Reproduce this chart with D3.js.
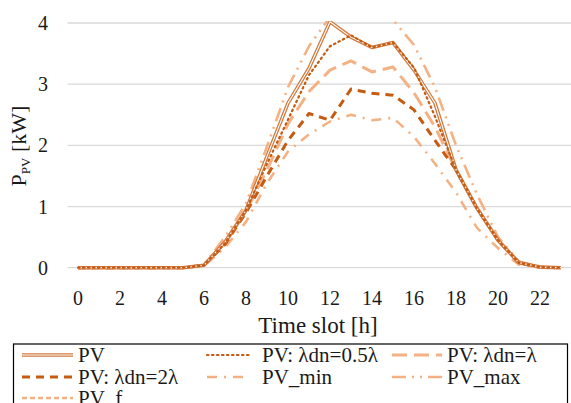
<!DOCTYPE html>
<html>
<head>
<meta charset="utf-8">
<script src="https://cdn.jsdelivr.net/npm/d3@7"></script>
<style>
  body { margin: 0; background: #fff; }
  svg { display: block; font-family: "Liberation Serif", "Times New Roman", serif; }
</style>
</head>
<body>
<svg id="chart" width="571" height="403"></svg>
<script>
// hours of the day
var hours = d3.range(0, 24);
var yTicks = [0, 1, 2, 3, 4];

// series values (kW)
var pv      = [0,0,0,0,0,0,0.04,0.42,0.94,1.82,2.69,3.26,4.02,3.77,3.6,3.68,3.23,2.69,1.6,0.97,0.45,0.08,0.01,0];
var pvHalf  = [0,0,0,0,0,0,0.04,0.4,0.94,1.7,2.42,3.15,3.62,3.8,3.6,3.68,3.27,2.47,1.6,0.97,0.45,0.08,0.01,0];
var pvOne   = [0,0,0,0,0,0,0.04,0.4,0.92,1.6,2.35,2.88,3.23,3.38,3.2,3.28,2.86,2.3,1.6,0.97,0.45,0.08,0.01,0];
var pvTwo   = [0,0,0,0,0,0,0.04,0.38,0.9,1.5,2.08,2.52,2.41,2.92,2.85,2.82,2.58,2.08,1.6,0.97,0.45,0.08,0.01,0];
var pvMin   = [0,0,0,0,0,0,0.03,0.33,0.75,1.38,1.9,2.18,2.39,2.5,2.41,2.45,2.14,1.7,1.23,0.65,0.32,0.05,0,0];
var pvMax   = [0,0,0,0,0,0,0.05,0.5,1.05,1.98,2.95,3.62,4.1,4.4,4.4,4.05,3.64,2.95,2.0,1.2,0.5,0.1,0.01,0];
var pvF     = [0,0,0,0,0,0,0.04,0.42,0.94,1.82,2.69,3.26,4.02,3.77,3.6,3.68,3.23,2.69,1.6,0.97,0.45,0.08,0.01,0];

var seriesNames = ["PV", "PV: \u03bbdn=0.5\u03bb", "PV: \u03bbdn=\u03bb", "PV: \u03bbdn=2\u03bb", "PV_min", "PV_max", "PV_f"];
var seriesValues = [pv, pvHalf, pvOne, pvTwo, pvMin, pvMax, pvF];

var dark = "#c55a11", light = "#f4b183", mid = "#d07a40";
// line styles per series
var styles = [
  { color: mid,   width: 3.6, dash: null, dbl: true },
  { color: dark,  width: 2.2, dash: "1.5,3.5", cap: "round" },
  { color: light, width: 3,   dash: "15,7" },
  { color: dark,  width: 3,   dash: "8,6" },
  { color: light, width: 2.6, dash: "10,7,2,7" },
  { color: light, width: 2.6, dash: "14,6,2,6,2,6" },
  { color: light, width: 2.6, dash: "5,3" }
];

var svg = d3.select("#chart");

var x = d3.scaleBand().domain(hours).range([67.5, 571.5]);
var y = d3.scaleLinear().domain([0, 4]).range([267.7, 23]);
var cx = function(h) { return x(h) + x.bandwidth() / 2; };

// gridlines
svg.append("g").selectAll("line")
  .data(yTicks).enter().append("line")
  .attr("x1", 67.5).attr("x2", 571.5)
  .attr("y1", d => y(d)).attr("y2", d => y(d))
  .attr("stroke", "#d9d9d9").attr("stroke-width", 1.3);

// y tick labels
svg.append("g").selectAll("text")
  .data(yTicks).enter().append("text")
  .attr("x", 48).attr("y", d => y(d)).attr("dy", "0.35em")
  .attr("text-anchor", "end").attr("font-size", 20).attr("fill", "#1a1a1a")
  .text(d => d);

// x tick labels, every other hour
svg.append("g").selectAll("text")
  .data(hours.filter(h => h % 2 === 0)).enter().append("text")
  .attr("x", d => cx(d)).attr("y", 298).attr("dy", "0.35em")
  .attr("text-anchor", "middle").attr("font-size", 20).attr("fill", "#1a1a1a")
  .text(d => d);

// axis titles
svg.append("text")
  .attr("x", 318).attr("y", 325).attr("dy", "0.35em")
  .attr("text-anchor", "middle").attr("font-size", 23).attr("fill", "#1a1a1a")
  .text("Time slot [h]");

var yt = svg.append("text")
  .attr("transform", "translate(18,146) rotate(-90)")
  .attr("dy", "0.35em")
  .attr("text-anchor", "middle").attr("font-size", 22).attr("fill", "#1a1a1a");
yt.append("tspan").text("P");
yt.append("tspan").attr("font-size", 13).attr("dy", "4").text("PV");
yt.append("tspan").attr("dy", "-4").text(" [kW]");

// clip the lines at the top of the plot
svg.append("clipPath").attr("id", "plot-clip")
  .append("rect").attr("x", 67.5).attr("y", 21).attr("width", 504).attr("height", 250);

var line = d3.line().x((d, i) => cx(hours[i])).y(d => y(d));

var plot = svg.append("g").attr("clip-path", "url(#plot-clip)");
var drawOrder = [6, 4, 5, 2, 3, 0, 1];
drawOrder.forEach(function(k) {
  var s = styles[k];
  plot.append("path")
    .attr("d", line(seriesValues[k]))
    .attr("fill", "none")
    .attr("stroke", s.color)
    .attr("stroke-width", s.width)
    .attr("stroke-dasharray", s.dash)
    .attr("stroke-linecap", s.cap || "butt")
    .attr("stroke-linejoin", "round");
  if (s.dbl) {
    plot.append("path")
      .attr("d", line(seriesValues[k]))
      .attr("fill", "none")
      .attr("stroke", "#fff")
      .attr("stroke-width", 1.1)
      .attr("stroke-linejoin", "round");
  }
});

// legend
svg.append("rect")
  .attr("x", 13.5).attr("y", 344).attr("width", 554).attr("height", 80)
  .attr("fill", "none").attr("stroke", "#000").attr("stroke-width", 1.2);

var colX = [22, 207, 392];
var colW = [51, 42, 50];
var colGap = [5, 13, 5];
var rowY = [355, 377, 398];

var legend = svg.selectAll(".legend")
  .data(seriesNames).enter().append("g")
  .attr("class", "legend")
  .attr("transform", (d, i) => "translate(" + colX[i % 3] + "," + rowY[Math.floor(i / 3)] + ")");

legend.each(function(d, i) {
  var g = d3.select(this), s = styles[i], w = colW[i % 3];
  g.append("line").attr("x1", 0).attr("x2", w).attr("y1", 0).attr("y2", 0)
    .attr("stroke", s.color).attr("stroke-width", s.width)
    .attr("stroke-dasharray", s.dash).attr("stroke-linecap", s.cap || "butt");
  if (s.dbl) {
    g.append("line").attr("x1", 0).attr("x2", w).attr("y1", 0).attr("y2", 0)
      .attr("stroke", "#fff").attr("stroke-width", 1.1);
  }
  g.append("text").attr("x", w + colGap[i % 3]).attr("dy", "0.35em")
    .attr("font-size", 21).attr("fill", "#1a1a1a").text(d);
});
</script>
</body>
</html>
